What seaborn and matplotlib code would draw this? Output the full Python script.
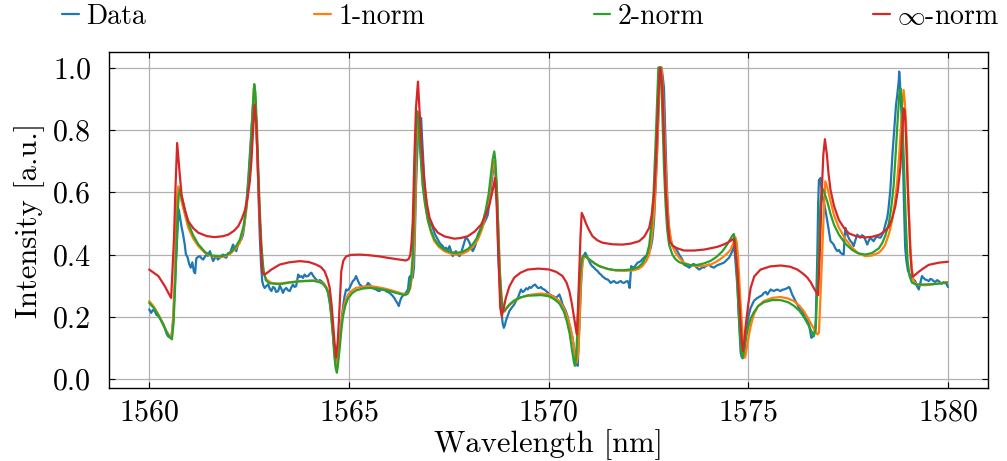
import numpy as np
import pandas as pd
import matplotlib
matplotlib.use("Agg")
import matplotlib.pyplot as plt
from matplotlib.ticker import FormatStrFormatter
import seaborn as sns

# ---------------- data (wavelength [nm], intensity [a.u.]) ----------------
data_points = [
    (1560.00, 0.224), (1560.05, 0.213), (1560.09, 0.222), (1560.14, 0.219), (1560.18, 0.207),
    (1560.23, 0.203), (1560.27, 0.196), (1560.31, 0.187), (1560.35, 0.178), (1560.39, 0.165),
    (1560.43, 0.148), (1560.46, 0.140), (1560.49, 0.136), (1560.53, 0.134), (1560.56, 0.139),
    (1560.60, 0.187), (1560.64, 0.293), (1560.69, 0.422), (1560.72, 0.505), (1560.74, 0.545),
    (1560.77, 0.520), (1560.81, 0.489), (1560.85, 0.464), (1560.89, 0.432), (1560.92, 0.400),
    (1560.96, 0.392), (1561.00, 0.370), (1561.04, 0.358), (1561.08, 0.375), (1561.12, 0.345),
    (1561.15, 0.340), (1561.18, 0.388), (1561.22, 0.392), (1561.27, 0.395), (1561.31, 0.388),
    (1561.35, 0.384), (1561.39, 0.392), (1561.43, 0.400), (1561.47, 0.396), (1561.52, 0.411),
    (1561.56, 0.395), (1561.60, 0.379), (1561.64, 0.388), (1561.68, 0.395), (1561.72, 0.384),
    (1561.77, 0.390), (1561.81, 0.397), (1561.85, 0.400), (1561.89, 0.392), (1561.93, 0.390),
    (1561.98, 0.405), (1562.02, 0.402), (1562.06, 0.418), (1562.10, 0.432), (1562.14, 0.420),
    (1562.18, 0.411), (1562.22, 0.430), (1562.27, 0.443), (1562.31, 0.450), (1562.35, 0.464),
    (1562.39, 0.500), (1562.43, 0.560), (1562.48, 0.640), (1562.52, 0.720), (1562.56, 0.800),
    (1562.60, 0.880), (1562.64, 0.930), (1562.67, 0.850), (1562.71, 0.720), (1562.74, 0.580),
    (1562.77, 0.454), (1562.80, 0.370), (1562.83, 0.315), (1562.86, 0.300), (1562.89, 0.293),
    (1562.94, 0.300), (1562.98, 0.304), (1563.02, 0.290), (1563.06, 0.283), (1563.10, 0.296),
    (1563.14, 0.293), (1563.18, 0.280), (1563.23, 0.283), (1563.27, 0.300), (1563.31, 0.290),
    (1563.35, 0.277), (1563.39, 0.288), (1563.43, 0.293), (1563.48, 0.285), (1563.52, 0.283),
    (1563.56, 0.295), (1563.60, 0.304), (1563.64, 0.296), (1563.68, 0.299), (1563.71, 0.320),
    (1563.73, 0.336), (1563.77, 0.328), (1563.81, 0.331), (1563.85, 0.325), (1563.89, 0.336),
    (1563.93, 0.330), (1563.98, 0.331), (1564.02, 0.338), (1564.06, 0.342), (1564.10, 0.333),
    (1564.14, 0.326), (1564.18, 0.320), (1564.23, 0.315), (1564.27, 0.318), (1564.31, 0.315),
    (1564.35, 0.310), (1564.39, 0.304), (1564.44, 0.292), (1564.48, 0.277), (1564.52, 0.245),
    (1564.56, 0.208), (1564.60, 0.150), (1564.64, 0.091), (1564.67, 0.055), (1564.70, 0.032),
    (1564.73, 0.070), (1564.77, 0.123), (1564.81, 0.180), (1564.85, 0.229), (1564.89, 0.265),
    (1564.93, 0.288), (1564.97, 0.285), (1565.02, 0.293), (1565.06, 0.305), (1565.10, 0.315),
    (1565.14, 0.320), (1565.18, 0.331), (1565.22, 0.318), (1565.27, 0.304), (1565.31, 0.300),
    (1565.35, 0.296), (1565.39, 0.293), (1565.44, 0.300), (1565.48, 0.309), (1565.52, 0.304),
    (1565.56, 0.298), (1565.60, 0.293), (1565.64, 0.290), (1565.68, 0.288), (1565.73, 0.284),
    (1565.77, 0.283), (1565.81, 0.290), (1565.85, 0.286), (1565.89, 0.288), (1565.93, 0.282),
    (1565.98, 0.280), (1566.02, 0.277), (1566.06, 0.272), (1566.10, 0.267), (1566.14, 0.260),
    (1566.18, 0.251), (1566.22, 0.243), (1566.25, 0.235), (1566.28, 0.250), (1566.31, 0.261),
    (1566.35, 0.268), (1566.39, 0.272), (1566.44, 0.280), (1566.48, 0.288), (1566.51, 0.325),
    (1566.53, 0.331), (1566.56, 0.330), (1566.60, 0.326), (1566.63, 0.360), (1566.66, 0.500),
    (1566.68, 0.614), (1566.71, 0.720), (1566.73, 0.774), (1566.75, 0.820), (1566.77, 0.843),
    (1566.79, 0.830), (1566.81, 0.838), (1566.83, 0.780), (1566.85, 0.731), (1566.89, 0.635),
    (1566.92, 0.590), (1566.96, 0.550), (1566.99, 0.515), (1567.02, 0.496), (1567.06, 0.500),
    (1567.10, 0.486), (1567.14, 0.470), (1567.18, 0.459), (1567.22, 0.450), (1567.27, 0.438),
    (1567.31, 0.432), (1567.35, 0.427), (1567.39, 0.418), (1567.43, 0.422), (1567.48, 0.415),
    (1567.52, 0.427), (1567.56, 0.410), (1567.60, 0.395), (1567.64, 0.405), (1567.68, 0.411),
    (1567.72, 0.400), (1567.77, 0.395), (1567.81, 0.405), (1567.85, 0.422), (1567.89, 0.440),
    (1567.93, 0.456), (1567.98, 0.448), (1568.02, 0.438), (1568.06, 0.425), (1568.10, 0.411),
    (1568.13, 0.418), (1568.16, 0.427), (1568.20, 0.445), (1568.23, 0.464), (1568.27, 0.475),
    (1568.31, 0.486), (1568.35, 0.492), (1568.39, 0.502), (1568.43, 0.512), (1568.48, 0.528),
    (1568.52, 0.570), (1568.56, 0.614), (1568.60, 0.660), (1568.63, 0.688), (1568.66, 0.670),
    (1568.69, 0.635), (1568.72, 0.520), (1568.74, 0.400), (1568.78, 0.300), (1568.81, 0.229),
    (1568.85, 0.180), (1568.88, 0.165), (1568.91, 0.175), (1568.93, 0.187), (1568.98, 0.205),
    (1569.02, 0.219), (1569.08, 0.230), (1569.14, 0.240), (1569.18, 0.250), (1569.23, 0.261),
    (1569.27, 0.275), (1569.31, 0.288), (1569.35, 0.280), (1569.39, 0.283), (1569.44, 0.292),
    (1569.48, 0.288), (1569.52, 0.296), (1569.56, 0.293), (1569.61, 0.300), (1569.66, 0.304),
    (1569.70, 0.298), (1569.73, 0.293), (1569.77, 0.293), (1569.81, 0.296), (1569.85, 0.290),
    (1569.89, 0.288), (1569.94, 0.283), (1569.98, 0.278), (1570.02, 0.272), (1570.06, 0.270),
    (1570.10, 0.267), (1570.14, 0.265), (1570.18, 0.261), (1570.22, 0.265), (1570.27, 0.272),
    (1570.31, 0.258), (1570.35, 0.240), (1570.39, 0.230), (1570.43, 0.219), (1570.48, 0.200),
    (1570.52, 0.176), (1570.56, 0.155), (1570.60, 0.133), (1570.64, 0.100), (1570.67, 0.059),
    (1570.70, 0.050), (1570.73, 0.043), (1570.75, 0.100), (1570.77, 0.165), (1570.79, 0.230),
    (1570.81, 0.293), (1570.83, 0.340), (1570.85, 0.379), (1570.88, 0.395), (1570.92, 0.406),
    (1570.95, 0.398), (1570.98, 0.390), (1571.02, 0.378), (1571.06, 0.368), (1571.10, 0.362),
    (1571.14, 0.358), (1571.18, 0.352), (1571.23, 0.347), (1571.27, 0.340), (1571.31, 0.336),
    (1571.35, 0.330), (1571.39, 0.326), (1571.43, 0.322), (1571.48, 0.320), (1571.52, 0.315),
    (1571.56, 0.309), (1571.60, 0.313), (1571.64, 0.315), (1571.68, 0.310), (1571.73, 0.309),
    (1571.77, 0.313), (1571.81, 0.315), (1571.85, 0.310), (1571.89, 0.309), (1571.93, 0.313),
    (1571.98, 0.315), (1572.01, 0.305), (1572.03, 0.293), (1572.05, 0.330), (1572.07, 0.363),
    (1572.10, 0.360), (1572.14, 0.358), (1572.18, 0.366), (1572.23, 0.374), (1572.27, 0.376),
    (1572.31, 0.379), (1572.35, 0.385), (1572.39, 0.390), (1572.43, 0.395), (1572.48, 0.400),
    (1572.52, 0.410), (1572.56, 0.422), (1572.60, 0.450), (1572.64, 0.507), (1572.68, 0.620),
    (1572.71, 0.700), (1572.73, 0.774), (1572.76, 0.880), (1572.78, 0.977), (1572.80, 1.000),
    (1572.83, 1.000), (1572.86, 0.970), (1572.89, 0.934), (1572.92, 0.800), (1572.95, 0.667),
    (1572.98, 0.560), (1573.02, 0.475), (1573.06, 0.445), (1573.10, 0.427), (1573.14, 0.425),
    (1573.18, 0.422), (1573.23, 0.410), (1573.27, 0.400), (1573.31, 0.392), (1573.35, 0.384),
    (1573.39, 0.368), (1573.43, 0.365), (1573.48, 0.362), (1573.52, 0.358), (1573.56, 0.362),
    (1573.60, 0.368), (1573.64, 0.370), (1573.68, 0.362), (1573.73, 0.356), (1573.77, 0.352),
    (1573.81, 0.355), (1573.85, 0.360), (1573.89, 0.358), (1573.94, 0.363), (1573.98, 0.366),
    (1574.02, 0.368), (1574.06, 0.362), (1574.10, 0.360), (1574.14, 0.358), (1574.18, 0.362),
    (1574.23, 0.366), (1574.27, 0.368), (1574.31, 0.370), (1574.35, 0.372), (1574.39, 0.374),
    (1574.44, 0.380), (1574.48, 0.385), (1574.52, 0.390), (1574.56, 0.400), (1574.60, 0.411),
    (1574.62, 0.420), (1574.64, 0.432), (1574.66, 0.410), (1574.68, 0.379), (1574.71, 0.330),
    (1574.73, 0.293), (1574.75, 0.240), (1574.77, 0.187), (1574.79, 0.135), (1574.81, 0.085),
    (1574.84, 0.070), (1574.86, 0.067), (1574.89, 0.080), (1574.91, 0.101), (1574.94, 0.140),
    (1574.98, 0.187), (1575.02, 0.210), (1575.06, 0.229), (1575.10, 0.240), (1575.14, 0.251),
    (1575.18, 0.256), (1575.23, 0.261), (1575.27, 0.264), (1575.31, 0.267), (1575.35, 0.270),
    (1575.39, 0.277), (1575.44, 0.280), (1575.48, 0.272), (1575.52, 0.280), (1575.56, 0.288),
    (1575.60, 0.285), (1575.64, 0.283), (1575.68, 0.286), (1575.73, 0.288), (1575.77, 0.285),
    (1575.81, 0.283), (1575.85, 0.287), (1575.89, 0.288), (1575.94, 0.290), (1575.98, 0.293),
    (1576.02, 0.296), (1576.04, 0.293), (1576.07, 0.282), (1576.10, 0.272), (1576.14, 0.262),
    (1576.18, 0.251), (1576.23, 0.240), (1576.27, 0.229), (1576.31, 0.225), (1576.35, 0.219),
    (1576.39, 0.208), (1576.43, 0.197), (1576.48, 0.188), (1576.52, 0.176), (1576.55, 0.155),
    (1576.58, 0.133), (1576.61, 0.136), (1576.64, 0.139), (1576.67, 0.160), (1576.69, 0.187),
    (1576.71, 0.300), (1576.73, 0.400), (1576.75, 0.560), (1576.77, 0.640), (1576.79, 0.630),
    (1576.81, 0.646), (1576.83, 0.615), (1576.85, 0.592), (1576.89, 0.570), (1576.92, 0.550),
    (1576.95, 0.530), (1576.98, 0.507), (1577.02, 0.475), (1577.06, 0.443), (1577.10, 0.438),
    (1577.14, 0.432), (1577.18, 0.420), (1577.23, 0.411), (1577.27, 0.415), (1577.31, 0.406),
    (1577.35, 0.402), (1577.39, 0.400), (1577.41, 0.450), (1577.43, 0.486), (1577.46, 0.470),
    (1577.48, 0.464), (1577.52, 0.452), (1577.56, 0.443), (1577.60, 0.438), (1577.64, 0.427),
    (1577.68, 0.445), (1577.73, 0.464), (1577.77, 0.458), (1577.81, 0.454), (1577.85, 0.462),
    (1577.89, 0.459), (1577.94, 0.445), (1577.98, 0.432), (1578.02, 0.445), (1578.06, 0.454),
    (1578.10, 0.448), (1578.14, 0.443), (1578.18, 0.452), (1578.23, 0.459), (1578.27, 0.455),
    (1578.31, 0.454), (1578.35, 0.462), (1578.39, 0.475), (1578.43, 0.495), (1578.48, 0.518),
    (1578.51, 0.545), (1578.53, 0.571), (1578.56, 0.610), (1578.58, 0.656), (1578.61, 0.720),
    (1578.64, 0.774), (1578.67, 0.830), (1578.70, 0.880), (1578.73, 0.910), (1578.75, 0.934),
    (1578.77, 0.960), (1578.78, 0.987), (1578.80, 0.950), (1578.81, 0.912), (1578.83, 0.870),
    (1578.85, 0.827), (1578.87, 0.720), (1578.89, 0.614), (1578.91, 0.510), (1578.93, 0.422),
    (1578.96, 0.380), (1579.00, 0.347), (1579.05, 0.335), (1579.10, 0.326), (1579.14, 0.320),
    (1579.18, 0.315), (1579.22, 0.300), (1579.27, 0.288), (1579.31, 0.310), (1579.35, 0.331),
    (1579.39, 0.325), (1579.43, 0.320), (1579.48, 0.318), (1579.52, 0.315), (1579.56, 0.322),
    (1579.60, 0.320), (1579.64, 0.315), (1579.68, 0.312), (1579.73, 0.318), (1579.77, 0.315),
    (1579.81, 0.310), (1579.85, 0.307), (1579.89, 0.312), (1579.93, 0.309), (1579.97, 0.305),
    (1580.00, 0.296),
]

norm1_points = [
    (1560.00, 0.251), (1560.12, 0.232), (1560.23, 0.208), (1560.33, 0.183), (1560.43, 0.155),
    (1560.50, 0.140), (1560.56, 0.133), (1560.60, 0.200), (1560.63, 0.293), (1560.66, 0.420),
    (1560.68, 0.528), (1560.71, 0.600), (1560.73, 0.619), (1560.77, 0.600), (1560.81, 0.571),
    (1560.90, 0.525), (1560.98, 0.486), (1561.10, 0.452), (1561.23, 0.427), (1561.40, 0.405),
    (1561.56, 0.395), (1561.81, 0.392), (1561.95, 0.397), (1562.06, 0.406), (1562.18, 0.422),
    (1562.27, 0.438), (1562.36, 0.480), (1562.43, 0.539), (1562.49, 0.620), (1562.54, 0.720),
    (1562.58, 0.840), (1562.62, 0.934), (1562.65, 0.900), (1562.68, 0.827), (1562.72, 0.680),
    (1562.75, 0.560), (1562.79, 0.460), (1562.83, 0.379), (1562.88, 0.335), (1562.94, 0.320),
    (1563.06, 0.309), (1563.27, 0.307), (1563.50, 0.311), (1563.77, 0.315), (1564.10, 0.317),
    (1564.25, 0.314), (1564.35, 0.309), (1564.43, 0.297), (1564.48, 0.283), (1564.53, 0.250),
    (1564.56, 0.208), (1564.60, 0.150), (1564.64, 0.080), (1564.67, 0.045), (1564.70, 0.032),
    (1564.73, 0.070), (1564.77, 0.123), (1564.81, 0.175), (1564.85, 0.219), (1564.91, 0.250),
    (1564.98, 0.272), (1565.08, 0.285), (1565.18, 0.293), (1565.35, 0.297), (1565.52, 0.299),
    (1565.70, 0.296), (1565.93, 0.290), (1566.10, 0.284), (1566.27, 0.277), (1566.42, 0.272),
    (1566.49, 0.278), (1566.54, 0.293), (1566.57, 0.320), (1566.60, 0.358), (1566.64, 0.443),
    (1566.67, 0.600), (1566.69, 0.750), (1566.72, 0.855), (1566.75, 0.810), (1566.77, 0.774),
    (1566.81, 0.700), (1566.85, 0.624), (1566.91, 0.560), (1566.98, 0.507), (1567.06, 0.470),
    (1567.14, 0.443), (1567.25, 0.425), (1567.39, 0.411), (1567.55, 0.403), (1567.68, 0.400),
    (1567.85, 0.403), (1567.98, 0.411), (1568.10, 0.425), (1568.23, 0.448), (1568.33, 0.480),
    (1568.43, 0.528), (1568.50, 0.575), (1568.56, 0.635), (1568.60, 0.675), (1568.64, 0.700),
    (1568.67, 0.670), (1568.71, 0.592), (1568.75, 0.450), (1568.78, 0.347), (1568.82, 0.270),
    (1568.86, 0.219), (1568.90, 0.217), (1568.93, 0.224), (1569.02, 0.238), (1569.14, 0.251),
    (1569.30, 0.262), (1569.48, 0.270), (1569.81, 0.275), (1570.02, 0.272), (1570.15, 0.263),
    (1570.27, 0.251), (1570.38, 0.228), (1570.48, 0.197), (1570.55, 0.165), (1570.60, 0.133),
    (1570.65, 0.090), (1570.70, 0.053), (1570.73, 0.070), (1570.75, 0.101), (1570.78, 0.200),
    (1570.81, 0.315), (1570.85, 0.375), (1570.89, 0.395), (1570.95, 0.392), (1571.02, 0.384),
    (1571.15, 0.372), (1571.27, 0.363), (1571.48, 0.354), (1571.68, 0.349), (1571.90, 0.348),
    (1572.10, 0.349), (1572.25, 0.354), (1572.35, 0.363), (1572.45, 0.380), (1572.52, 0.400),
    (1572.58, 0.450), (1572.64, 0.528), (1572.69, 0.650), (1572.73, 0.774), (1572.76, 0.900),
    (1572.79, 1.000), (1572.83, 1.000), (1572.86, 0.930), (1572.89, 0.830), (1572.92, 0.720),
    (1572.96, 0.600), (1573.00, 0.507), (1573.05, 0.460), (1573.10, 0.427), (1573.18, 0.405),
    (1573.27, 0.390), (1573.39, 0.374), (1573.55, 0.366), (1573.73, 0.363), (1573.90, 0.364),
    (1574.06, 0.368), (1574.20, 0.377), (1574.35, 0.390), (1574.47, 0.403), (1574.56, 0.416),
    (1574.62, 0.435), (1574.68, 0.455), (1574.71, 0.440), (1574.74, 0.400), (1574.77, 0.330),
    (1574.81, 0.240), (1574.85, 0.160), (1574.88, 0.101), (1574.92, 0.069), (1574.95, 0.090),
    (1574.99, 0.123), (1575.06, 0.170), (1575.14, 0.208), (1575.25, 0.235), (1575.39, 0.251),
    (1575.60, 0.261), (1575.81, 0.264), (1576.00, 0.259), (1576.14, 0.251), (1576.28, 0.236),
    (1576.39, 0.219), (1576.50, 0.195), (1576.60, 0.171), (1576.68, 0.155), (1576.73, 0.144),
    (1576.77, 0.149), (1576.81, 0.270), (1576.85, 0.400), (1576.89, 0.530), (1576.93, 0.635),
    (1576.98, 0.615), (1577.06, 0.571), (1577.15, 0.525), (1577.27, 0.486), (1577.43, 0.450),
    (1577.60, 0.422), (1577.75, 0.405), (1577.93, 0.395), (1578.10, 0.397), (1578.27, 0.406),
    (1578.36, 0.418), (1578.43, 0.432), (1578.52, 0.465), (1578.60, 0.507), (1578.67, 0.565),
    (1578.73, 0.635), (1578.78, 0.720), (1578.83, 0.827), (1578.86, 0.890), (1578.89, 0.928),
    (1578.92, 0.890), (1578.95, 0.827), (1578.98, 0.720), (1579.00, 0.614), (1579.03, 0.510),
    (1579.06, 0.422), (1579.10, 0.350), (1579.14, 0.315), (1579.20, 0.305), (1579.27, 0.302),
    (1579.45, 0.302), (1579.60, 0.304), (1579.80, 0.308), (1579.98, 0.312),
]

norm2_points = [
    (1560.00, 0.245), (1560.12, 0.228), (1560.23, 0.205), (1560.33, 0.180), (1560.43, 0.153),
    (1560.50, 0.137), (1560.57, 0.128), (1560.61, 0.180), (1560.65, 0.300), (1560.68, 0.420),
    (1560.71, 0.530), (1560.74, 0.590), (1560.77, 0.608), (1560.81, 0.585), (1560.90, 0.540),
    (1560.98, 0.500), (1561.10, 0.462), (1561.23, 0.433), (1561.40, 0.408), (1561.56, 0.397),
    (1561.81, 0.395), (1561.95, 0.400), (1562.06, 0.410), (1562.18, 0.428), (1562.27, 0.448),
    (1562.36, 0.490), (1562.43, 0.550), (1562.49, 0.640), (1562.54, 0.740), (1562.59, 0.860),
    (1562.63, 0.947), (1562.66, 0.920), (1562.70, 0.800), (1562.73, 0.680), (1562.77, 0.540),
    (1562.81, 0.430), (1562.86, 0.350), (1562.92, 0.318), (1563.00, 0.308), (1563.27, 0.305),
    (1563.50, 0.310), (1563.77, 0.314), (1564.10, 0.316), (1564.25, 0.312), (1564.35, 0.306),
    (1564.43, 0.293), (1564.48, 0.278), (1564.53, 0.243), (1564.56, 0.200), (1564.60, 0.140),
    (1564.64, 0.072), (1564.67, 0.035), (1564.70, 0.021), (1564.73, 0.050), (1564.77, 0.100),
    (1564.81, 0.155), (1564.85, 0.200), (1564.91, 0.236), (1564.98, 0.260), (1565.08, 0.276),
    (1565.18, 0.285), (1565.35, 0.291), (1565.52, 0.293), (1565.70, 0.291), (1565.93, 0.286),
    (1566.10, 0.280), (1566.27, 0.274), (1566.40, 0.270), (1566.47, 0.274), (1566.52, 0.290),
    (1566.56, 0.330), (1566.60, 0.400), (1566.63, 0.520), (1566.66, 0.690), (1566.69, 0.820),
    (1566.71, 0.860), (1566.74, 0.830), (1566.77, 0.770), (1566.81, 0.690), (1566.85, 0.620),
    (1566.91, 0.560), (1566.98, 0.510), (1567.06, 0.475), (1567.14, 0.450), (1567.25, 0.430),
    (1567.39, 0.416), (1567.55, 0.408), (1567.68, 0.405), (1567.85, 0.409), (1567.98, 0.418),
    (1568.10, 0.433), (1568.23, 0.458), (1568.33, 0.492), (1568.43, 0.545), (1568.50, 0.595),
    (1568.56, 0.660), (1568.60, 0.705), (1568.64, 0.731), (1568.67, 0.700), (1568.71, 0.600),
    (1568.75, 0.450), (1568.78, 0.340), (1568.82, 0.260), (1568.86, 0.222), (1568.90, 0.220),
    (1568.93, 0.226), (1569.02, 0.240), (1569.14, 0.253), (1569.30, 0.263), (1569.48, 0.268),
    (1569.81, 0.270), (1570.02, 0.266), (1570.15, 0.256), (1570.27, 0.243), (1570.38, 0.218),
    (1570.46, 0.185), (1570.53, 0.145), (1570.58, 0.100), (1570.63, 0.058), (1570.66, 0.043),
    (1570.69, 0.070), (1570.72, 0.150), (1570.75, 0.250), (1570.79, 0.340), (1570.84, 0.390),
    (1570.88, 0.398), (1570.95, 0.392), (1571.02, 0.385), (1571.15, 0.372), (1571.27, 0.363),
    (1571.48, 0.354), (1571.68, 0.350), (1571.90, 0.350), (1572.10, 0.353), (1572.25, 0.360),
    (1572.35, 0.372), (1572.45, 0.395), (1572.52, 0.430), (1572.58, 0.500), (1572.63, 0.600),
    (1572.68, 0.760), (1572.72, 0.900), (1572.75, 1.000), (1572.80, 1.000), (1572.83, 0.930),
    (1572.86, 0.800), (1572.89, 0.680), (1572.93, 0.560), (1572.97, 0.480), (1573.02, 0.430),
    (1573.10, 0.400), (1573.18, 0.385), (1573.27, 0.376), (1573.39, 0.370), (1573.55, 0.366),
    (1573.73, 0.367), (1573.90, 0.372), (1574.06, 0.380), (1574.20, 0.392), (1574.35, 0.410),
    (1574.45, 0.428), (1574.53, 0.445), (1574.60, 0.460), (1574.64, 0.466), (1574.67, 0.440),
    (1574.70, 0.380), (1574.73, 0.300), (1574.77, 0.190), (1574.81, 0.110), (1574.85, 0.069),
    (1574.88, 0.080), (1574.92, 0.115), (1574.98, 0.160), (1575.06, 0.195), (1575.14, 0.215),
    (1575.25, 0.235), (1575.39, 0.247), (1575.60, 0.254), (1575.81, 0.254), (1576.00, 0.247),
    (1576.14, 0.236), (1576.28, 0.220), (1576.39, 0.200), (1576.50, 0.175), (1576.58, 0.155),
    (1576.64, 0.139), (1576.69, 0.160), (1576.73, 0.300), (1576.77, 0.450), (1576.81, 0.570),
    (1576.85, 0.614), (1576.90, 0.600), (1576.98, 0.570), (1577.06, 0.530), (1577.15, 0.495),
    (1577.27, 0.464), (1577.43, 0.435), (1577.60, 0.415), (1577.75, 0.404), (1577.93, 0.400),
    (1578.10, 0.405), (1578.27, 0.420), (1578.36, 0.438), (1578.43, 0.460), (1578.52, 0.500),
    (1578.58, 0.550), (1578.64, 0.620), (1578.69, 0.720), (1578.74, 0.830), (1578.78, 0.910),
    (1578.81, 0.934), (1578.84, 0.900), (1578.87, 0.800), (1578.91, 0.650), (1578.95, 0.490),
    (1578.99, 0.380), (1579.04, 0.330), (1579.10, 0.310), (1579.20, 0.304), (1579.40, 0.304),
    (1579.60, 0.305), (1579.80, 0.307), (1579.98, 0.310),
]

norminf_points = [
    (1560.00, 0.352), (1560.23, 0.331), (1560.39, 0.299), (1560.48, 0.277), (1560.55, 0.261),
    (1560.62, 0.450), (1560.66, 0.620), (1560.70, 0.758), (1560.75, 0.680), (1560.81, 0.592),
    (1560.90, 0.540), (1560.98, 0.507), (1561.10, 0.485), (1561.23, 0.470), (1561.45, 0.459),
    (1561.64, 0.456), (1561.85, 0.459), (1561.98, 0.464), (1562.12, 0.476), (1562.23, 0.491),
    (1562.32, 0.515), (1562.39, 0.539), (1562.46, 0.580), (1562.52, 0.635), (1562.56, 0.700),
    (1562.60, 0.795), (1562.64, 0.880), (1562.68, 0.820), (1562.71, 0.720), (1562.74, 0.610),
    (1562.77, 0.507), (1562.80, 0.420), (1562.83, 0.342), (1562.89, 0.336), (1562.98, 0.344),
    (1563.06, 0.352), (1563.27, 0.368), (1563.50, 0.375), (1563.77, 0.379), (1564.00, 0.376),
    (1564.18, 0.368), (1564.30, 0.360), (1564.39, 0.347), (1564.47, 0.320), (1564.52, 0.293),
    (1564.57, 0.235), (1564.60, 0.187), (1564.64, 0.120), (1564.68, 0.069), (1564.72, 0.120),
    (1564.75, 0.187), (1564.78, 0.270), (1564.81, 0.347), (1564.86, 0.380), (1564.93, 0.394),
    (1565.05, 0.399), (1565.27, 0.400), (1565.50, 0.398), (1565.77, 0.394), (1566.00, 0.389),
    (1566.27, 0.384), (1566.43, 0.381), (1566.50, 0.386), (1566.54, 0.400), (1566.57, 0.440),
    (1566.60, 0.507), (1566.64, 0.710), (1566.68, 0.870), (1566.73, 0.955), (1566.77, 0.860),
    (1566.81, 0.774), (1566.85, 0.700), (1566.89, 0.635), (1566.95, 0.565), (1567.02, 0.518),
    (1567.12, 0.488), (1567.23, 0.470), (1567.40, 0.458), (1567.64, 0.451), (1567.80, 0.453),
    (1567.98, 0.459), (1568.15, 0.474), (1568.31, 0.496), (1568.42, 0.525), (1568.52, 0.560),
    (1568.58, 0.595), (1568.63, 0.624), (1568.66, 0.646), (1568.70, 0.560), (1568.73, 0.454),
    (1568.76, 0.340), (1568.79, 0.229), (1568.83, 0.203), (1568.88, 0.230), (1568.93, 0.261),
    (1569.02, 0.298), (1569.14, 0.326), (1569.30, 0.342), (1569.48, 0.352), (1569.75, 0.355),
    (1570.02, 0.352), (1570.20, 0.344), (1570.35, 0.331), (1570.45, 0.310), (1570.52, 0.283),
    (1570.58, 0.245), (1570.64, 0.197), (1570.68, 0.165), (1570.71, 0.144), (1570.74, 0.240),
    (1570.77, 0.347), (1570.80, 0.460), (1570.83, 0.534), (1570.88, 0.520), (1570.93, 0.502),
    (1571.00, 0.482), (1571.10, 0.459), (1571.22, 0.446), (1571.35, 0.438), (1571.60, 0.433),
    (1571.85, 0.432), (1572.05, 0.435), (1572.27, 0.443), (1572.40, 0.458), (1572.52, 0.486),
    (1572.58, 0.525), (1572.64, 0.592), (1572.69, 0.700), (1572.73, 0.827), (1572.76, 0.930),
    (1572.79, 1.000), (1572.82, 0.980), (1572.85, 0.934), (1572.89, 0.780), (1572.93, 0.614),
    (1572.98, 0.510), (1573.03, 0.443), (1573.10, 0.430), (1573.18, 0.422), (1573.39, 0.413),
    (1573.65, 0.413), (1573.89, 0.416), (1574.05, 0.420), (1574.23, 0.425), (1574.38, 0.432),
    (1574.48, 0.438), (1574.57, 0.445), (1574.64, 0.451), (1574.68, 0.410), (1574.73, 0.347),
    (1574.77, 0.260), (1574.81, 0.176), (1574.84, 0.120), (1574.87, 0.091), (1574.90, 0.120),
    (1574.93, 0.165), (1575.00, 0.240), (1575.06, 0.293), (1575.15, 0.330), (1575.31, 0.352),
    (1575.55, 0.362), (1575.81, 0.365), (1576.05, 0.361), (1576.23, 0.352), (1576.38, 0.338),
    (1576.48, 0.326), (1576.57, 0.310), (1576.64, 0.293), (1576.70, 0.280), (1576.75, 0.270),
    (1576.79, 0.400), (1576.84, 0.600), (1576.88, 0.720), (1576.92, 0.770), (1576.97, 0.720),
    (1577.01, 0.660), (1577.06, 0.607), (1577.15, 0.555), (1577.27, 0.511), (1577.40, 0.485),
    (1577.52, 0.468), (1577.70, 0.459), (1577.93, 0.455), (1578.10, 0.457), (1578.27, 0.463),
    (1578.40, 0.473), (1578.52, 0.489), (1578.60, 0.515), (1578.68, 0.553), (1578.75, 0.610),
    (1578.81, 0.682), (1578.85, 0.780), (1578.89, 0.869), (1578.92, 0.860), (1578.95, 0.780),
    (1578.98, 0.661), (1579.02, 0.530), (1579.06, 0.404), (1579.09, 0.350), (1579.12, 0.329),
    (1579.18, 0.335), (1579.27, 0.345), (1579.40, 0.357), (1579.52, 0.367), (1579.77, 0.374),
    (1580.00, 0.377),
]

series_labels = ["Data", "1-norm", "2-norm", r"$\infty$-norm"]
series_points = [data_points, norm1_points, norm2_points, norminf_points]
series_colors = ["#1f77b4", "#ff7f0e", "#2ca02c", "#d62728"]
x_ticks = [1560, 1565, 1570, 1575, 1580]
y_ticks = [0.0, 0.2, 0.4, 0.6, 0.8, 1.0]

# ---------------- style ----------------
sns.set_theme(style="ticks")
plt.rcParams.update({
    "font.family": ["cmr10", "DejaVu Serif"],
    "mathtext.fontset": "cm",
    "axes.formatter.use_mathtext": True,
    "axes.unicode_minus": False,
    "text.color": "black",
    "axes.labelcolor": "black",
    "xtick.color": "black",
    "ytick.color": "black",
    "axes.edgecolor": "black",
})

fig = plt.figure(figsize=(10.07, 4.61), dpi=100)
ax = fig.add_axes([0.1085, 0.1577, 0.8725, 0.7289])

for lab, pts, col in zip(series_labels, series_points, series_colors):
    df = pd.DataFrame(pts, columns=["wavelength", "intensity"])
    sns.lineplot(data=df, x="wavelength", y="intensity", ax=ax, color=col,
                 linewidth=1.6, label=lab, sort=False, estimator=None)

ax.set_xlim(1559, 1581)
ax.set_ylim(-0.029, 1.049)
ax.set_xticks(x_ticks)
ax.set_yticks(y_ticks)
ax.yaxis.set_major_formatter(FormatStrFormatter("%.1f"))
ax.grid(True, color="#b0b0b0", linewidth=0.9)
ax.set_axisbelow(True)
ax.tick_params(direction="in", top=True, right=True, length=4, width=0.8,
               labelsize=21.5, colors="black", labelcolor="black")
ax.tick_params(axis="y", pad=13)
ax.tick_params(axis="x", pad=8)
for s in ax.spines.values():
    s.set_color("black")
    s.set_linewidth(1.0)
ax.set_xlabel("Wavelength [nm]", fontsize=22, labelpad=2, color="black")
ax.set_ylabel("Intensity [a.u.]", fontsize=22, labelpad=6, color="black")

handles, labels = ax.get_legend_handles_labels()
ax.get_legend().remove()
leg = fig.legend(handles, labels, loc="center", bbox_to_anchor=(0.0616, 0.94, 0.93, 0.046),
                 mode="expand", ncol=4, frameon=False, borderaxespad=0, borderpad=0,
                 handlelength=0.6, handletextpad=0.25, fontsize=20)
for t in leg.get_texts():
    t.set_color("black")

fig.savefig("out.png", dpi=100)
